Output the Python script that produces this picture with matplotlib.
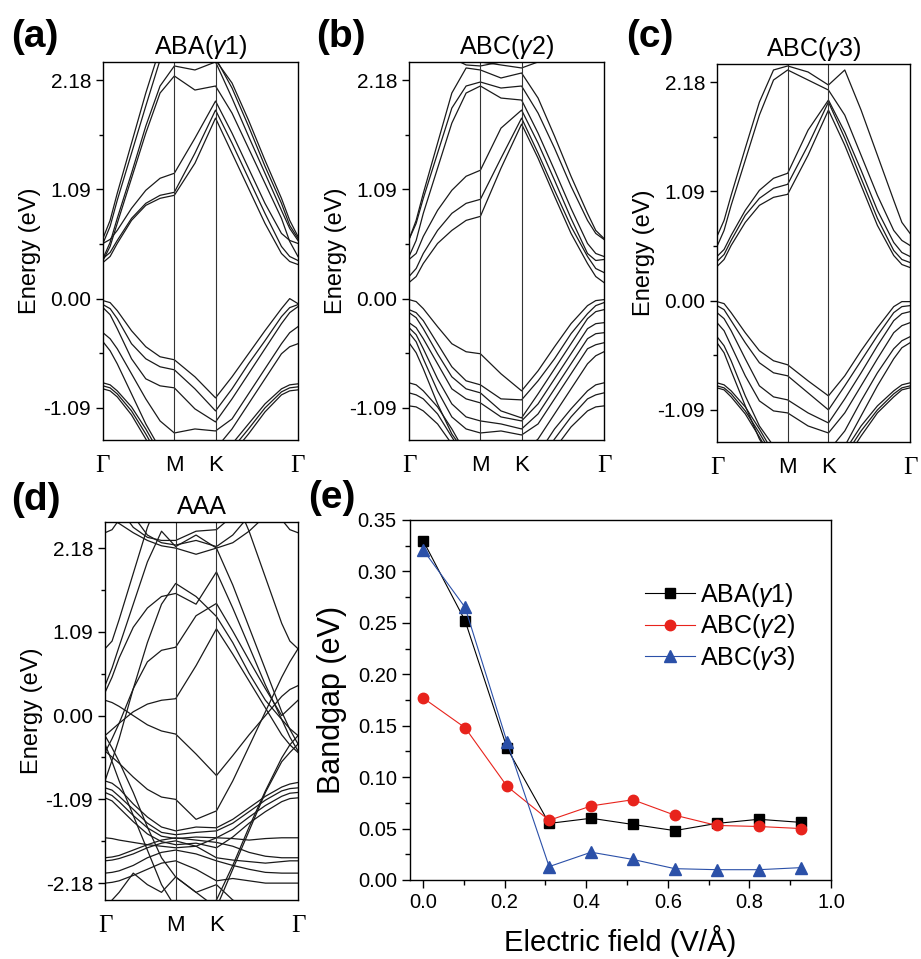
import numpy as np
import matplotlib
matplotlib.use("Agg")
import matplotlib.pyplot as plt
from matplotlib.ticker import MultipleLocator, FixedLocator

plt.rcParams["font.family"] = ["Liberation Sans", "DejaVu Sans"]
plt.rcParams["mathtext.fontset"] = "custom"
plt.rcParams["mathtext.rm"] = "Liberation Sans"
plt.rcParams["mathtext.it"] = "Liberation Sans:italic"

# k-path: segment lengths Γ-M, M-K, K-Γ and the sampled fractions on each segment
K_SEGMENTS = [0.866, 0.5, 1.0]
K_LABELS = ["Γ", "M", "K", "Γ"]
GM_FRAC = [0.0, 0.1, 0.2, 0.4, 0.6, 0.8, 1.0]
MK_FRAC = [0.5, 1.0]
KG_FRAC = [0.2, 0.4, 0.6, 0.8, 0.9, 1.0]

# band energies (eV) at: Γ, .1, .2, .4, .6, .8, M, mid, K, .2, .4, .6, .8, .9, Γ
bands_aba = [
    [0.36, 0.42, 0.55, 0.78, 0.93, 1.00, 1.03, 1.35, 1.80, 1.45, 1.10, 0.75, 0.45, 0.37, 0.34],
    [0.40, 0.46, 0.58, 0.80, 0.95, 1.03, 1.06, 1.45, 1.88, 1.55, 1.20, 0.85, 0.52, 0.42, 0.38],
    [0.55, 0.59, 0.68, 0.90, 1.08, 1.20, 1.25, 1.60, 1.97, 1.65, 1.30, 0.95, 0.65, 0.58, 0.55],
    [0.38, 0.52, 0.75, 1.20, 1.65, 2.05, 2.22, 2.08, 2.12, 1.85, 1.50, 1.15, 0.80, 0.57, 0.42],
    [0.40, 0.56, 0.80, 1.25, 1.72, 2.12, 2.32, 2.28, 2.36, 2.00, 1.62, 1.25, 0.88, 0.70, 0.58],
    [0.55, 0.72, 0.98, 1.45, 1.92, 2.38, 2.55, 2.45, 2.40, 2.10, 1.72, 1.32, 0.95, 0.73, 0.60],
    [0.60, 0.78, 1.05, 1.55, 2.05, 2.50, 2.70, 2.55, 2.38, 2.15, 1.78, 1.38, 1.00, 0.78, 0.62],
    [-0.02, -0.04, -0.12, -0.32, -0.48, -0.58, -0.61, -0.78, -0.99, -0.78, -0.55, -0.32, -0.10, 0.00, -0.05],
    [-0.06, -0.10, -0.20, -0.45, -0.60, -0.68, -0.71, -0.90, -1.12, -0.90, -0.65, -0.42, -0.18, -0.09, -0.06],
    [-0.09, -0.16, -0.30, -0.60, -0.80, -0.87, -0.89, -1.10, -1.23, -1.00, -0.75, -0.50, -0.25, -0.14, -0.08],
    [-0.34, -0.40, -0.50, -0.75, -1.00, -1.22, -1.34, -1.30, -1.32, -1.20, -0.95, -0.70, -0.45, -0.34, -0.28],
    [-0.43, -0.52, -0.65, -0.95, -1.25, -1.50, -1.60, -1.50, -1.50, -1.30, -1.05, -0.80, -0.55, -0.48, -0.45],
    [-0.84, -0.86, -0.92, -1.08, -1.30, -1.55, -1.70, -1.70, -1.60, -1.45, -1.25, -1.05, -0.90, -0.86, -0.85],
    [-0.87, -0.89, -0.95, -1.12, -1.35, -1.60, -1.75, -1.75, -1.65, -1.50, -1.30, -1.09, -0.93, -0.89, -0.88],
    [-0.90, -0.92, -0.98, -1.16, -1.40, -1.65, -1.80, -1.80, -1.70, -1.55, -1.35, -1.13, -0.96, -0.92, -0.91],
]

bands_abc2 = [
    [0.16, 0.22, 0.35, 0.55, 0.68, 0.78, 0.82, 1.30, 1.74, 1.40, 1.02, 0.65, 0.35, 0.22, 0.16],
    [0.22, 0.30, 0.45, 0.68, 0.85, 0.95, 0.99, 1.40, 1.80, 1.45, 1.08, 0.72, 0.42, 0.30, 0.26],
    [0.39, 0.45, 0.62, 0.88, 1.08, 1.22, 1.28, 1.70, 1.88, 1.55, 1.18, 0.80, 0.45, 0.38, 0.39],
    [0.42, 0.58, 0.85, 1.30, 1.75, 2.05, 2.12, 2.00, 1.98, 1.65, 1.28, 0.90, 0.55, 0.45, 0.42],
    [0.59, 0.75, 1.00, 1.45, 1.90, 2.12, 2.16, 2.10, 2.12, 1.85, 1.50, 1.12, 0.78, 0.65, 0.59],
    [0.59, 0.78, 1.05, 1.55, 2.05, 2.30, 2.28, 2.20, 2.25, 2.00, 1.62, 1.22, 0.85, 0.68, 0.60],
    [2.60, 2.58, 2.55, 2.48, 2.40, 2.33, 2.32, 2.36, 2.38, 2.45, 2.55, 2.60, 2.60, 2.60, 2.60],
    [3.00, 3.00, 3.00, 3.00, 2.80, 2.50, 2.36, 2.33, 2.30, 2.36, 2.50, 2.80, 3.00, 3.00, 3.00],
    [-0.01, -0.03, -0.10, -0.28, -0.45, -0.53, -0.55, -0.75, -0.92, -0.72, -0.48, -0.25, -0.07, -0.02, -0.01],
    [-0.11, -0.14, -0.22, -0.45, -0.68, -0.82, -0.86, -1.00, -1.01, -0.82, -0.60, -0.35, -0.15, -0.07, -0.04],
    [-0.14, -0.19, -0.30, -0.55, -0.78, -0.90, -0.94, -1.12, -1.19, -0.95, -0.70, -0.45, -0.20, -0.13, -0.11],
    [-0.24, -0.29, -0.40, -0.65, -0.90, -1.00, -1.04, -1.18, -1.22, -1.05, -0.80, -0.55, -0.30, -0.25, -0.24],
    [-0.29, -0.36, -0.50, -0.80, -1.05, -1.18, -1.22, -1.25, -1.30, -1.15, -0.90, -0.65, -0.40, -0.35, -0.34],
    [-0.34, -0.43, -0.60, -0.92, -1.18, -1.30, -1.34, -1.32, -1.36, -1.25, -1.00, -0.75, -0.50, -0.46, -0.44],
    [-0.44, -0.54, -0.70, -1.05, -1.35, -1.55, -1.60, -1.55, -1.55, -1.40, -1.15, -0.90, -0.65, -0.57, -0.53],
    [-0.84, -0.86, -0.92, -1.08, -1.30, -1.55, -1.70, -1.70, -1.70, -1.55, -1.30, -1.10, -0.92, -0.86, -0.84],
    [-0.94, -0.96, -1.00, -1.15, -1.38, -1.60, -1.80, -1.80, -1.80, -1.65, -1.40, -1.18, -1.00, -0.96, -0.94],
    [-1.07, -1.08, -1.12, -1.25, -1.45, -1.70, -1.90, -1.90, -1.90, -1.75, -1.50, -1.28, -1.12, -1.08, -1.07],
]

bands_abc3 = [
    [0.34, 0.41, 0.55, 0.78, 0.95, 1.03, 1.06, 1.45, 1.90, 1.55, 1.15, 0.75, 0.45, 0.36, 0.33],
    [0.39, 0.46, 0.60, 0.85, 1.02, 1.12, 1.16, 1.55, 1.98, 1.62, 1.22, 0.82, 0.50, 0.41, 0.38],
    [0.44, 0.51, 0.65, 0.90, 1.10, 1.22, 1.27, 1.70, 2.00, 1.68, 1.30, 0.90, 0.58, 0.48, 0.44],
    [0.54, 0.70, 0.95, 1.40, 1.85, 2.20, 2.30, 2.20, 2.10, 1.85, 1.45, 1.05, 0.70, 0.60, 0.55],
    [0.64, 0.80, 1.05, 1.52, 1.98, 2.30, 2.34, 2.28, 2.15, 2.30, 1.90, 1.45, 1.00, 0.78, 0.67],
    [-0.01, -0.03, -0.12, -0.32, -0.50, -0.60, -0.64, -0.80, -0.95, -0.75, -0.50, -0.27, -0.06, -0.01, -0.01],
    [-0.05, -0.09, -0.20, -0.42, -0.62, -0.72, -0.75, -0.92, -1.09, -0.85, -0.60, -0.35, -0.12, -0.06, -0.05],
    [-0.12, -0.18, -0.30, -0.58, -0.85, -0.96, -0.99, -1.12, -1.22, -0.98, -0.72, -0.45, -0.20, -0.13, -0.11],
    [-0.22, -0.30, -0.45, -0.75, -1.00, -1.10, -1.12, -1.25, -1.32, -1.12, -0.85, -0.58, -0.32, -0.25, -0.22],
    [-0.36, -0.45, -0.60, -0.95, -1.25, -1.45, -1.55, -1.50, -1.50, -1.30, -1.00, -0.72, -0.48, -0.40, -0.36],
    [-0.42, -0.52, -0.70, -1.05, -1.38, -1.60, -1.70, -1.60, -1.60, -1.45, -1.15, -0.85, -0.58, -0.47, -0.42],
    [-0.82, -0.84, -0.90, -1.06, -1.28, -1.52, -1.68, -1.70, -1.70, -1.50, -1.25, -1.05, -0.90, -0.84, -0.82],
    [-0.85, -0.87, -0.93, -1.10, -1.32, -1.56, -1.72, -1.75, -1.75, -1.55, -1.30, -1.09, -0.93, -0.87, -0.85],
    [-0.87, -0.89, -0.96, -1.13, -1.36, -1.60, -1.76, -1.80, -1.80, -1.60, -1.35, -1.12, -0.96, -0.89, -0.87],
]

bands_aaa = [
    [0.87, 0.97, 1.25, 1.85, 2.45, 2.90, 3.00, 3.00, 3.00, 2.90, 2.40, 1.80, 1.20, 0.97, 0.87],
    [2.38, 2.42, 2.55, 2.80, 3.00, 3.00, 3.00, 3.00, 3.00, 3.00, 3.00, 2.80, 2.55, 2.42, 2.38],
    [0.39, 0.62, 0.90, 1.45, 2.00, 2.40, 2.20, 2.35, 2.18, 1.70, 1.15, 0.60, 0.05, -0.18, -0.37],
    [0.30, 0.50, 0.75, 1.15, 1.40, 1.55, 1.59, 1.45, 1.87, 1.40, 0.90, 0.40, -0.05, -0.28, -0.46],
    [-0.85, -0.58, -0.30, 0.35, 0.95, 1.45, 1.72, 1.55, 1.29, 0.95, 0.55, 0.20, -0.05, -0.17, -0.26],
    [0.20, 0.17, 0.12, 0.00, -0.12, -0.20, -0.24, -0.50, -0.78, -0.52, -0.25, 0.00, 0.25, 0.34, 0.39],
    [-0.26, -0.18, -0.10, 0.05, 0.15, 0.20, 0.22, 0.65, 1.13, 0.80, 0.45, 0.10, -0.25, -0.38, -0.48],
    [-0.48, -0.30, -0.10, 0.35, 0.70, 0.85, 0.89, 1.30, 1.46, 1.10, 0.72, 0.35, 0.00, 0.10, 0.20],
    [3.00, 3.00, 3.00, 2.60, 2.35, 2.25, 2.22, 2.28, 2.20, 2.35, 2.60, 3.00, 3.00, 3.00, 3.00],
    [3.00, 2.85, 2.70, 2.45, 2.32, 2.28, 2.28, 2.40, 2.42, 2.60, 2.90, 3.00, 3.00, 3.00, 3.00],
    [2.60, 2.55, 2.50, 2.38, 2.28, 2.21, 2.18, 2.10, 2.18, 2.25, 2.40, 2.60, 2.80, 2.90, 3.00],
    [-0.46, -0.54, -0.62, -0.80, -0.96, -1.06, -1.09, -1.35, -1.24, -0.85, -0.40, 0.05, 0.50, 0.70, 0.87],
    [-0.26, -0.42, -0.60, -1.00, -1.45, -1.85, -2.10, -2.30, -2.50, -2.00, -1.50, -1.00, -0.60, -0.48, -0.37],
    [-0.37, -0.60, -0.85, -1.30, -1.75, -2.20, -2.50, -2.60, -2.40, -1.95, -1.45, -0.98, -0.55, -0.38, -0.26],
    [-0.85, -0.88, -0.95, -1.15, -1.32, -1.45, -1.50, -1.45, -1.46, -1.35, -1.20, -1.05, -0.93, -0.89, -0.87],
    [-0.94, -0.97, -1.05, -1.22, -1.40, -1.52, -1.55, -1.52, -1.50, -1.40, -1.25, -1.10, -0.98, -0.95, -0.94],
    [-1.00, -1.04, -1.12, -1.30, -1.46, -1.57, -1.60, -1.58, -1.59, -1.48, -1.32, -1.17, -1.05, -1.01, -1.00],
    [-1.07, -1.11, -1.20, -1.38, -1.54, -1.64, -1.68, -1.66, -1.72, -1.58, -1.40, -1.25, -1.12, -1.08, -1.07],
    [-1.59, -1.60, -1.62, -1.65, -1.68, -1.70, -1.72, -1.70, -1.59, -1.60, -1.62, -1.60, -1.59, -1.59, -1.59],
    [-1.85, -1.84, -1.82, -1.75, -1.68, -1.62, -1.59, -1.62, -1.65, -1.70, -1.78, -1.83, -1.85, -1.85, -1.85],
    [-1.89, -1.88, -1.86, -1.80, -1.72, -1.66, -1.63, -1.70, -1.85, -1.88, -1.90, -1.92, -1.90, -1.89, -1.89],
    [-2.05, -2.04, -2.02, -1.95, -1.85, -1.78, -1.75, -1.80, -1.89, -1.95, -2.00, -2.04, -2.05, -2.05, -2.05],
    [-2.18, -2.17, -2.15, -2.08, -2.00, -1.92, -1.89, -2.00, -2.15, -2.12, -2.15, -2.18, -2.18, -2.18, -2.18],
    [-2.50, -2.40, -2.30, -2.05, -2.20, -2.30, -2.10, -2.30, -2.20, -2.40, -2.50, -2.60, -2.60, -2.60, -2.60],
]

# bandgap vs electric field
field = [0.0, 0.103, 0.206, 0.309, 0.412, 0.514, 0.617, 0.720, 0.823, 0.926]
gap_aba_g1 = [0.330, 0.252, 0.128, 0.055, 0.060, 0.054, 0.048, 0.055, 0.059, 0.056]
gap_abc_g2 = [0.177, 0.148, 0.091, 0.058, 0.072, 0.078, 0.063, 0.053, 0.052, 0.050]
gap_abc_g3 = [0.321, 0.265, 0.134, 0.013, 0.027, 0.020, 0.011, 0.010, 0.010, 0.012]


def k_axis():
    nodes = np.concatenate([[0.0], np.cumsum(K_SEGMENTS)])
    ks = [nodes[0] + f * K_SEGMENTS[0] for f in GM_FRAC]
    ks += [nodes[1] + f * K_SEGMENTS[1] for f in MK_FRAC]
    ks += [nodes[2] + f * K_SEGMENTS[2] for f in KG_FRAC]
    return nodes, np.array(ks)


def band_panel(ax, bands, ylim, yticks, title):
    nodes, ks = k_axis()
    for band in bands:
        ax.plot(ks, band, color="#1a1a1a", lw=0.9)
    for x in nodes[1:-1]:
        ax.axvline(x, color="#333333", lw=0.8)
    ax.set_xlim(nodes[0], nodes[-1])
    ax.set_ylim(*ylim)
    ax.yaxis.set_major_locator(FixedLocator(yticks))
    ax.yaxis.set_minor_locator(MultipleLocator(0.545))
    ax.set_yticklabels([f"{t:.2f}" for t in yticks])
    ax.tick_params(axis="y", which="both", direction="out", labelsize=15, right=False)
    ax.tick_params(axis="y", which="major", length=5, width=1)
    ax.tick_params(axis="y", which="minor", length=3, width=1)
    ax.set_xticks(nodes)
    ax.set_xticklabels(K_LABELS)
    ax.tick_params(axis="x", length=0, pad=11, labelsize=16)
    for lab in ax.get_xticklabels():
        if lab.get_text() == "Γ":
            lab.set_family(["Liberation Serif", "DejaVu Serif"])
            lab.set_fontsize(18)
    ax.set_ylabel("Energy (eV)", fontsize=17, labelpad=2)
    ax.set_title(title, fontsize=18, pad=6)
    for s in ax.spines.values():
        s.set_linewidth(1.0)


fig = plt.figure(figsize=(9.21, 9.59), dpi=100)

ax_a = fig.add_axes([0.1118, 0.5412, 0.2117, 0.3942])
ax_b = fig.add_axes([0.4441, 0.5412, 0.2117, 0.3942])
ax_c = fig.add_axes([0.7785, 0.5391, 0.2096, 0.3942])
ax_d = fig.add_axes([0.1140, 0.0615, 0.2096, 0.3942])
ax_e = fig.add_axes([0.4452, 0.0824, 0.4571, 0.3754])

main_ticks = [-1.09, 0.0, 1.09, 2.18]
band_panel(ax_a, bands_aba, (-1.41, 2.36), main_ticks, r"ABA($\gamma$1)")
band_panel(ax_b, bands_abc2, (-1.41, 2.36), main_ticks, r"ABC($\gamma$2)")
band_panel(ax_c, bands_abc3, (-1.41, 2.36), main_ticks, r"ABC($\gamma$3)")
band_panel(ax_d, bands_aaa, (-2.40, 2.52), [-2.18, -1.09, 0.0, 1.09, 2.18], "AAA")

# panel (e)
ax_e.plot(field, gap_aba_g1, color="black", lw=0.8, marker="s", ms=7, label=r"ABA($\gamma$1)")
ax_e.plot(field, gap_abc_g2, color="#e8231c", lw=0.8, marker="o", ms=7.5, label=r"ABC($\gamma$2)")
ax_e.plot(field, gap_abc_g3, color="#2b50a8", lw=0.8, marker="^", ms=8, label=r"ABC($\gamma$3)")
ax_e.set_xlim(-0.032, 1.0)
ax_e.set_ylim(0.0, 0.35)
ax_e.xaxis.set_major_locator(MultipleLocator(0.2))
ax_e.xaxis.set_minor_locator(MultipleLocator(0.1))
ax_e.yaxis.set_major_locator(MultipleLocator(0.05))
ax_e.yaxis.set_minor_locator(MultipleLocator(0.025))
ax_e.xaxis.set_major_formatter(plt.FormatStrFormatter("%.1f"))
ax_e.yaxis.set_major_formatter(plt.FormatStrFormatter("%.2f"))
ax_e.tick_params(which="both", direction="out", labelsize=14.5, top=False, right=False)
ax_e.tick_params(which="major", length=6, width=1)
ax_e.tick_params(which="minor", length=3.5, width=1)
ax_e.set_xlabel("Electric field (V/Å)", fontsize=21, labelpad=9)
ax_e.set_ylabel("Bandgap (eV)", fontsize=22, labelpad=8)
for s in ax_e.spines.values():
    s.set_linewidth(1.0)
ax_e.legend(loc="upper right", bbox_to_anchor=(0.955, 0.88), frameon=False, fontsize=18,
            handlelength=2.0, handletextpad=0.2, labelspacing=0.15, borderpad=0.2)

# panel letters
for txt, x, y in [("(a)", 0.012, 0.980), ("(b)", 0.343, 0.980), ("(c)", 0.680, 0.980),
                  ("(d)", 0.012, 0.497), ("(e)", 0.335, 0.499)]:
    fig.text(x, y, txt, fontsize=28, fontweight="bold", va="top", ha="left")

fig.savefig("out.png", dpi=100)
